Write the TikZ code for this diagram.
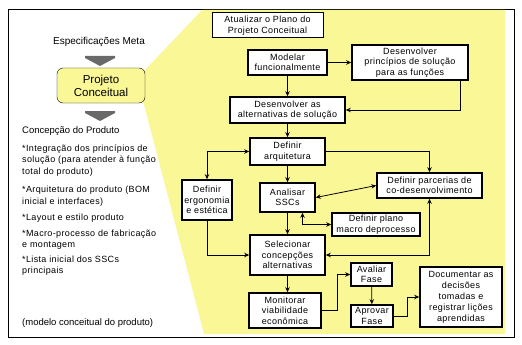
\documentclass[tikz,border=0pt]{standalone}
\usepackage{fontspec}
\setsansfont{Liberation Sans}
\newfontfamily\widesans[LetterSpace=4]{Liberation Sans}
\usetikzlibrary{arrows.meta}
\definecolor{panel}{RGB}{250,247,150}
\definecolor{chevron}{RGB}{105,105,105}

\begin{document}
\begin{tikzpicture}[x=1pt,y=-1pt,font=\sffamily,>={Stealth[length=5pt,width=4.5pt]},
  stage/.style={draw,fill=white,line width=1.6pt,align=center,inner sep=0pt,
    font=\widesans\fontsize{9}{10.5}\selectfont},
  flow/.style={->,line width=0.8pt},
  both/.style={<->,line width=0.8pt},
  item/.style={anchor=west,align=left,inner sep=0pt,
    font=\widesans\fontsize{9}{11.5}\selectfont}]
  \useasboundingbox (0,0) rectangle (522,345);
  \draw[line width=0.8pt] (8,9) rectangle (514,337);
  \fill[panel] (202,10) -- (505,10) -- (505,334) -- (204,334) -- (143,101) -- (143,72) -- cycle;

  % left column
  \node[font=\sffamily\fontsize{10}{12}\selectfont] (meta) at (99,42) {Especificações Meta};
  \fill[chevron] (85,56) -- (115,56) -- (115,58) -- (100,66) -- (85,58) -- cycle;
  \node[draw,fill=panel,rounded corners=6pt,minimum width=88pt,minimum height=35pt,
    align=center,font=\sffamily\fontsize{11.5}{13}\selectfont] (pc) at (101,85.5) {Projeto\\Conceitual};
  \fill[chevron] (85,111) -- (115,111) -- (115,113) -- (100,121) -- (85,113) -- cycle;
  \node[item,font=\sffamily\fontsize{9.5}{11}\selectfont] (concep) at (22,131) {Concepção do Produto};
  \node[item] (b1) at (22,160.5) {*Integração dos princípios de\\solução (para atender à função\\total do produto)};
  \node[item] (b2) at (22,196) {*Arquitetura do produto (BOM\\inicial e interfaces)};
  \node[item] (b3) at (22,218) {*Layout e estilo produto};
  \node[item] (b4) at (22,239.5) {*Macro-processo de fabricação\\e montagem};
  \node[item] (b5) at (22,265.5) {*Lista inicial dos SSCs\\principais};
  \node[item,font=\sffamily\fontsize{9.5}{11}\selectfont] (modelo) at (22,323) {(modelo conceitual do produto)};

  % activities
  \node[stage,line width=1pt,minimum width=111pt,minimum height=25pt] (atual) at (267.5,25.5) {Atualizar o Plano do\\Projeto Conceitual};
  \node[stage,minimum width=79pt,minimum height=25pt] (modelar) at (287.5,62.5) {Modelar\\funcionalmente};
  \node[stage,minimum width=116pt,minimum height=35pt] (princ) at (410,62.5) {Desenvolver\\princípios de solução\\para as funções};
  \node[stage,minimum width=115pt,minimum height=26pt] (altern) at (287.5,110) {Desenvolver as\\alternativas de solução};
  \node[stage,minimum width=75pt,minimum height=27pt] (arq) at (287.5,151.5) {Definir\\arquitetura};
  \node[stage,minimum width=50pt,minimum height=40pt] (ergo) at (207,200) {Definir\\ergonomia\\e estética};
  \node[stage,minimum width=55pt,minimum height=29pt] (ssc) at (287.5,197.5) {Analisar\\SSCs};
  \node[stage,minimum width=105pt,minimum height=25pt] (parc) at (429.5,185.5) {Definir parcerias de\\co-desenvolvimento};
  \node[stage,minimum width=88pt,minimum height=23pt] (macro) at (376,224.5) {Definir plano\\macro deprocesso};
  \node[stage,minimum width=75pt,minimum height=40pt] (selec) at (287.5,255) {Selecionar\\concepções\\alternativas};
  \node[stage,minimum width=72pt,minimum height=35pt] (monit) at (285,310.5) {Monitorar\\viabilidade\\econômica};
  \node[stage,minimum width=41pt,minimum height=23pt] (aval) at (371.5,274.5) {Avaliar\\Fase};
  \node[stage,minimum width=42pt,minimum height=22pt] (aprov) at (372,316) {Aprovar\\Fase};
  \node[stage,minimum width=82pt,minimum height=60pt,font=\widesans\fontsize{9}{11}\selectfont] (doc) at (461,297) {Documentar as\\decisões\\tomadas e\\registrar lições\\aprendidas};

  % connectors
  \draw[flow] (modelar) -- (princ);
  \draw[flow] (modelar) -- (altern);
  \draw[flow] ([xshift=50pt]princ.south) |- (altern);
  \draw[flow] (altern) -- (arq);
  \draw[both] (ergo) |- (arq);
  \draw[flow] (arq) -| (parc);
  \draw[flow] (arq) -- (ssc);
  \draw[both] (ssc.east) -- (parc.west);
  \draw[both] ([xshift=15pt]ssc.south) |- (macro);
  \draw[flow] (ssc) -- (selec);
  \draw[flow] (ergo) |- (selec);
  \draw[both] (parc) |- (selec);
  \draw[flow] (selec) -- (selec |- monit.north);
  \draw[flow] (monit.east) -- ++(16,0) |- (aval);
  \draw[flow] (aval) -- (aprov);
  \draw[flow] (aprov.east) -- ++(14,0) |- (doc);
\end{tikzpicture}
\end{document}
